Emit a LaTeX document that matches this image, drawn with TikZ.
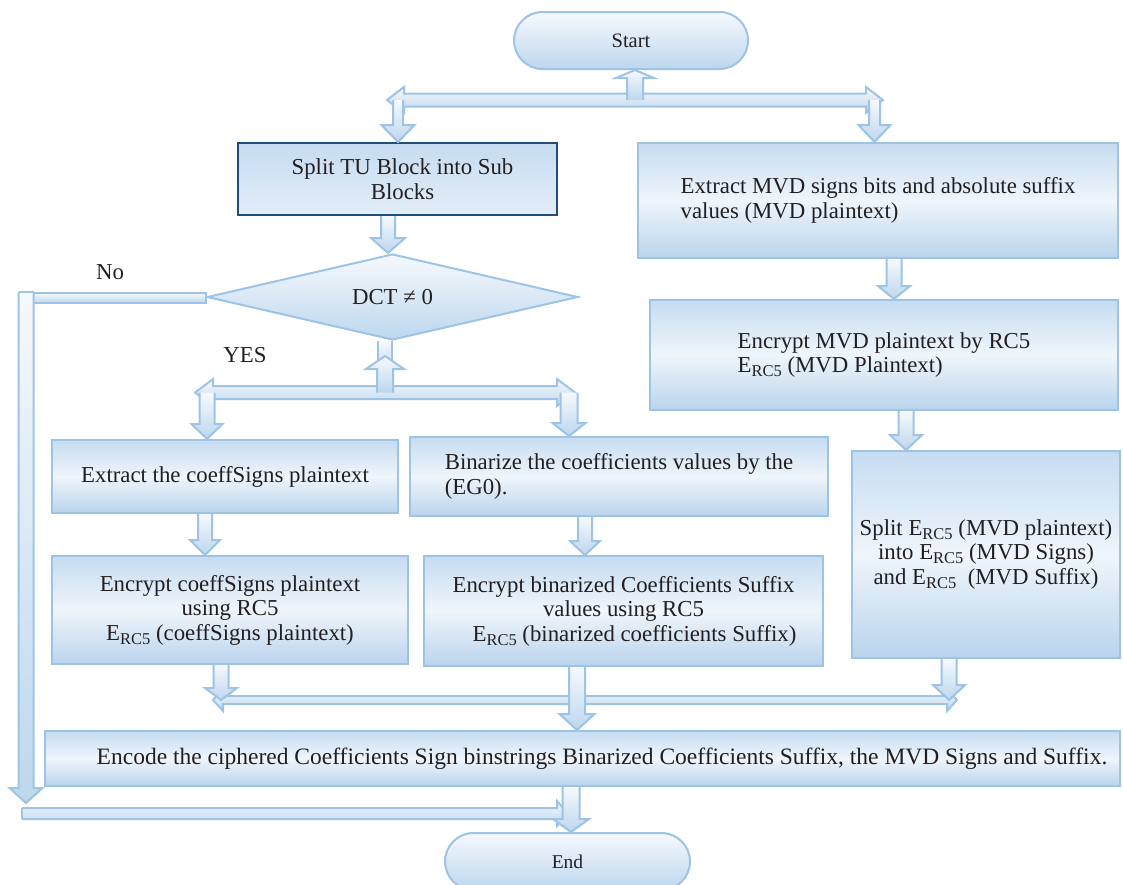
\documentclass[tikz,border=0pt]{standalone}
\usepackage{fontspec}
\setmainfont{Liberation Serif}
\usetikzlibrary{calc,shapes.geometric,shapes.misc}
\definecolor{bline}{HTML}{9DC3E6}
\definecolor{bdark}{HTML}{1F4E79}
\definecolor{boxtop}{HTML}{C6DCF1}
\definecolor{boxmid}{HTML}{EFF5FB}
\definecolor{boxbot}{HTML}{BAD4ED}
\definecolor{apale}{HTML}{F6F9FD}
\definecolor{afill}{HTML}{BDD7EE}
\definecolor{txt}{HTML}{231F20}
\newcommand\mainfs{\fontsize{22.8}{24.5}\selectfont}
\newcommand\Erc{E\raisebox{-4pt}{\fontsize{16.5}{18}\selectfont RC5}}
\tikzset{
  box/.style={rectangle, draw=bline, line width=2pt, top color=boxtop, bottom color=boxbot, middle color=boxmid, inner sep=4pt, text=txt, font=\mainfs, align=center},
  darkbox/.style={box, draw=bdark, top color=boxtop, bottom color=boxmid!70!boxtop},
  term/.style={rounded rectangle, draw=bline, line width=2pt, top color=apale, bottom color=afill, text=txt, font=\fontsize{20.5}{23}\selectfont, inner sep=2pt},
  decision/.style={diamond, aspect=4.3, draw=bline, line width=2pt, top color=apale, bottom color=afill, text=txt, font=\mainfs, inner sep=0pt},
  lbl/.style={text=txt, font=\mainfs, inner sep=0pt},
  arrfill/.style={top color=apale, bottom color=afill, draw=none},
  arrline/.style={draw=bline, line width=2pt, line join=miter}
}
% single block arrow: #1 from, #2 tip, #3 shaft half width, #4 head half width, #5 head length
\newcommand\barr[5]{%
  \coordinate (bh) at ($(#2)!#5pt!(#1)$);
  \coordinate (p1) at ($(#1)!#3pt!90:(#2)$);
  \coordinate (p2) at ($(bh)!#3pt!90:(#2)$);
  \coordinate (p3) at ($(bh)!#4pt!90:(#2)$);
  \coordinate (p5) at ($(bh)!#4pt!-90:(#2)$);
  \coordinate (p6) at ($(bh)!#3pt!-90:(#2)$);
  \coordinate (p7) at ($(#1)!#3pt!-90:(#2)$);
  \path[arrfill] (p1)--(p2)--(p3)--(#2)--(p5)--(p6)--(p7)--cycle;
  \draw[arrline] (p1)--(p2)--(p3)--(#2)--(p5)--(p6)--(p7);
}
% double block arrow between tips #1 and #2
\newcommand\dbarr[5]{%
  \coordinate (bha) at ($(#1)!#5pt!(#2)$);
  \coordinate (bhb) at ($(#2)!#5pt!(#1)$);
  \path[arrfill] (#1) -- ($(bha)!#4pt!90:(#2)$) -- ($(bha)!#3pt!90:(#2)$) -- ($(bhb)!#3pt!90:(#2)$) -- ($(bhb)!#4pt!90:(#2)$) -- (#2) -- ($(bhb)!#4pt!-90:(#2)$) -- ($(bhb)!#3pt!-90:(#2)$) -- ($(bha)!#3pt!-90:(#2)$) -- ($(bha)!#4pt!-90:(#2)$) -- cycle;
  \draw[arrline] (#1) -- ($(bha)!#4pt!90:(#2)$) -- ($(bha)!#3pt!90:(#2)$) -- ($(bhb)!#3pt!90:(#2)$) -- ($(bhb)!#4pt!90:(#2)$) -- (#2) -- ($(bhb)!#4pt!-90:(#2)$) -- ($(bhb)!#3pt!-90:(#2)$) -- ($(bha)!#3pt!-90:(#2)$) -- ($(bha)!#4pt!-90:(#2)$) -- cycle;
}
\begin{document}
\begin{tikzpicture}[x=1pt,y=-1pt]
\useasboundingbox (0,0) rectangle (1123,884);

% nodes
\node[term, minimum width=238pt, minimum height=57pt] (start) at (631,40.5) {Start};
\node[darkbox, minimum width=319pt, minimum height=72pt] (split) at (397.5,179) {\hspace*{10pt}Split TU Block into Sub\\\hspace*{10pt}Blocks};
\node[box, align=left, minimum width=480pt, minimum height=115pt] (mvd1) at (878,200.5) {Extract MVD signs bits and absolute suffix\\values (MVD plaintext)};
\node[decision, minimum width=371pt, minimum height=86pt] (dct) at (392.5,297) {DCT ≠ 0};
\node[box, align=left, minimum width=468pt, minimum height=110pt] (mvd2) at (884,355) {Encrypt MVD plaintext by RC5\\\Erc{} (MVD Plaintext)};
\node[box, minimum width=346pt, minimum height=73pt] (cs1) at (225,476.5) {Extract the coeffSigns plaintext};
\node[box, align=left, minimum width=418pt, minimum height=79pt] (bin1) at (619,476.5) {Binarize the coefficients values by the\\(EG0).};
\node[box, minimum width=356pt, minimum height=108pt] (cs2) at (230,610) {Encrypt coeffSigns plaintext\\using RC5\\\Erc{} (coeffSigns plaintext)};
\node[box, minimum width=399pt, minimum height=110pt] (bin2) at (623.5,611) {Encrypt binarized Coefficients Suffix\\values using RC5\\\hspace*{22pt}\Erc{} (binarized coefficients Suffix)};
\node[box, minimum width=268pt, minimum height=207pt] (mvd3) at (986,554.5) {Split \Erc{} (MVD plaintext)\\into \Erc{} (MVD Signs)\\and \Erc{}\ \ (MVD Suffix)};
\node[box, minimum width=1075pt, minimum height=55pt, font=\fontsize{23.5}{25}\selectfont] (enc) at (582.5,758.5) {\hspace*{39pt}Encode the ciphered Coefficients Sign binstrings Binarized Coefficients Suffix, the MVD Signs and Suffix.};
\node[term, font=\fontsize{19.5}{22}\selectfont, minimum width=249pt, minimum height=57pt] (end) at (567.5,861.5) {End};

\node[lbl] (no) at (110,272) {No};
\node[lbl] (yes) at (245,355) {YES};

% top distribution bar
\coordinate (tbL) at (387,100);
\coordinate (tbR) at (883,100);
\dbarr{tbL}{tbR}{6.5}{13}{17}
\coordinate (u0) at (635,100);
\coordinate (u1) at (start.south -| 635,0);
\barr{u0}{u1}{8}{19}{8}
\coordinate (d1a) at (398,100);
\coordinate (d1b) at (split.north -| 398,0);
\barr{d1a}{d1b}{5}{16.5}{17}
\coordinate (d2a) at (874.5,100);
\coordinate (d2b) at (mvd1.north -| 874.5,0);
\barr{d2a}{d2b}{5.5}{16}{17}

% split -> decision
\coordinate (s1) at (split.south -| 388,0);
\coordinate (s2) at (dct.north -| 388,0);
\barr{s1}{s2}{7}{17}{15}

% No branch
\path[arrfill] (33,293) rectangle (dct.west |- 0,303);
\draw[arrline] (33,293) -- (dct.west |- 0,293) -- (dct.west |- 0,303) -- (33,303);
\coordinate (n1) at (26,292);
\coordinate (n2) at (26,803);
\barr{n1}{n2}{7.5}{16.5}{15}
\draw[arrline] (p1) -- (p7);
\coordinate (bb1) at (22,813.5);
\coordinate (bb2) at (568,813.5);
\barr{bb1}{bb2}{5.5}{12.5}{11}
\draw[arrline] (p1) -- (p7);

% YES branch
\coordinate (y0) at (dct.south -| 385,0);
\path[arrfill] ($(y0)+(-7,0)$) rectangle (392,372);
\draw[arrline] ($(y0)+(-7,0)$) -- (378,372) (392,372) -- ($(y0)+(7,0)$);
\coordinate (ybL) at (195,392.5);
\coordinate (ybR) at (575,392.5);
\dbarr{ybL}{ybR}{6.5}{13.5}{18}
\coordinate (yu0) at (385,392.5);
\coordinate (yu1) at (385,356);
\barr{yu0}{yu1}{8}{19}{13}
\coordinate (yl0) at (207,392.5);
\coordinate (yl1) at (cs1.north -| 207,0);
\barr{yl0}{yl1}{7.5}{15.5}{15}
\coordinate (yr0) at (569,392.5);
\coordinate (yr1) at (bin1.north -| 569,0);
\barr{yr0}{yr1}{8.5}{16.5}{13}

% column arrows
\coordinate (c1a) at (cs1.south -| 205,0);
\coordinate (c1b) at (cs2.north -| 205,0);
\barr{c1a}{c1b}{7}{15}{15}
\coordinate (b1a) at (bin1.south -| 585,0);
\coordinate (b1b) at (bin2.north -| 585,0);
\barr{b1a}{b1b}{7}{15}{14}
\coordinate (m1a) at (mvd1.south -| 894,0);
\coordinate (m1b) at (mvd2.north -| 894,0);
\barr{m1a}{m1b}{7.5}{16}{13}
\coordinate (m2a) at (mvd2.south -| 906,0);
\coordinate (m2b) at (mvd3.north -| 906,0);
\barr{m2a}{m2b}{7.5}{16}{15}

% merge bar
\coordinate (mgL) at (213,700);
\coordinate (mgR) at (957,700);
\dbarr{mgL}{mgR}{4}{11}{10}
\coordinate (e1a) at (cs2.south -| 221,0);
\coordinate (e1b) at (221,700);
\barr{e1a}{e1b}{7.5}{16}{12}
\coordinate (e2a) at (bin2.south -| 577,0);
\coordinate (e2b) at (enc.north -| 577,0);
\barr{e2a}{e2b}{8}{17.5}{16}
\coordinate (e3a) at (mvd3.south -| 949,0);
\coordinate (e3b) at (949,700);
\barr{e3a}{e3b}{7.5}{16}{15}

% encode -> end
\coordinate (f1) at (enc.south -| 571,0);
\coordinate (f2) at (end.north -| 571,0);
\barr{f1}{f2}{8.5}{18}{13}
\end{tikzpicture}
\end{document}
